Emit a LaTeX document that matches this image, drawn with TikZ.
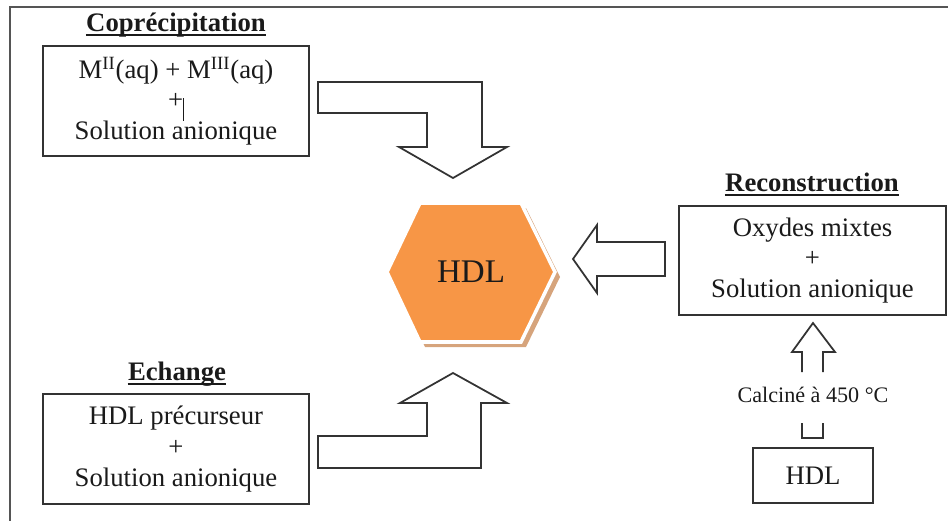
\documentclass[tikz,border=0pt]{standalone}
\usepackage{fontspec}
\setmainfont{Liberation Serif}
\usetikzlibrary{positioning}
\definecolor{ink}{HTML}{1A1A1A}
\definecolor{edge}{HTML}{333333}
\definecolor{frame}{HTML}{555555}
\definecolor{hexfill}{HTML}{F79646}
\definecolor{hexshade}{HTML}{D6A47C}
\tikzset{
  body/.style={font=\fontsize{15.2}{17.4}\selectfont, text=ink},
  stepbox/.style={
    draw=edge, line width=1pt, fill=white, body, align=center,
    inner sep=0pt, minimum width=5.32cm, minimum height=2.2cm
  },
  heading/.style={font=\bfseries\fontsize{15.2}{17}\selectfont, text=ink, inner sep=0pt, anchor=base},
  headrule/.style={draw=ink, line width=0.9pt},
  blockarrow/.style={draw=edge, line width=1pt, fill=white, line join=miter},
  hexagon/.style={fill=hexfill, draw=white, line width=2pt, line join=miter},
  hexshadow/.style={fill=hexshade},
  small/.style={font=\fontsize{12.6}{14}\selectfont, text=ink}
}

\begin{document}
\begin{tikzpicture}[x=0.02cm,y=-0.02cm]
  \useasboundingbox (0,0) rectangle (948,521);
  % frame
  \draw[frame, line width=1.2pt] (10,521) -- (10,7) -- (948,7);

  % coprecipitation
  \node[heading] (copt) at (176,31) {Coprécipitation};
  \draw[headrule] ([yshift=-2.2pt]copt.base west) -- ([yshift=-2.2pt]copt.base east);
  \node[stepbox] (copbox) at (176,101)
     {M\textsuperscript{II}(aq) + M\textsuperscript{III}(aq)\\+\rule[-0.45em]{0.5pt}{0.85em}\\Solution anionique};

  % echange
  \node[heading] (exht) at (177,380) {Echange};
  \draw[headrule] ([yshift=-2.2pt]exht.base west) -- ([yshift=-2.2pt]exht.base east);
  \node[stepbox] (exbox) at (176,449)
     {HDL précurseur\\+\\Solution anionique};

  % reconstruction
  \node[heading] (rect) at (812,191) {Reconstruction};
  \draw[headrule] ([yshift=-2.2pt]rect.base west) -- ([yshift=-2.2pt]rect.base east);
  \node[stepbox, minimum width=5.34cm, minimum height=2.18cm] (recbox) at (812.5,260.5)
     {Oxydes mixtes\\+\\Solution anionique};
  \node[stepbox, minimum width=2.4cm, minimum height=1.1cm] (hdlbox) at (813,475.5) {HDL};
  \node[small] (calc) at (813,395) {Calciné à 450 °C};

  % HDL hexagon
  \fill[hexshadow] (392,277) -- (425,208) -- (526,208) -- (560,277) -- (526,347) -- (425,347) -- cycle;
  \draw[hexagon] (387,272) -- (420,203) -- (521,203) -- (555,272) -- (521,342) -- (420,342) -- cycle;
  \node[font=\fontsize{18.8}{20}\selectfont, text=ink] (hdl) at (471,272) {HDL};

  % block arrows
  \draw[blockarrow] (318,82) -- (482,82) -- (482,147) -- (507,147) -- (453,178)
     -- (399,147) -- (427,147) -- (427,113) -- (318,113) -- cycle;
  \draw[blockarrow] (453,373) -- (507,403) -- (481,403) -- (481,468) -- (318,468)
     -- (318,436) -- (427,436) -- (427,403) -- (400,403) -- cycle;
  \draw[blockarrow] (573,259) -- (597,225) -- (597,242) -- (665,242) -- (665,276)
     -- (597,276) -- (597,293) -- cycle;
  \draw[blockarrow] (802,372) -- (802,352) -- (792,352) -- (813,323) -- (835,352)
     -- (823,352) -- (823,372);
  \draw[blockarrow] (802,423) -- (802,438) -- (823,438) -- (823,423);
\end{tikzpicture}
\end{document}
